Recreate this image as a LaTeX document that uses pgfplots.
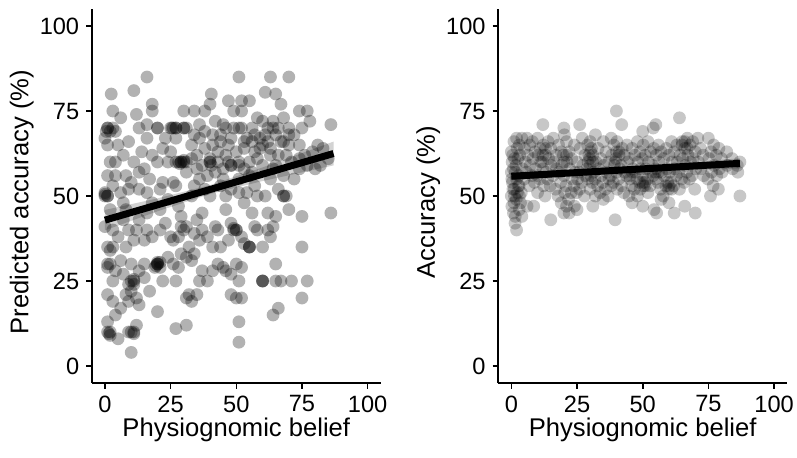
\documentclass[border=0pt]{standalone}
\usepackage{fontspec}
\setmainfont{Liberation Sans}
\usepackage{pgfplots}
\pgfplotsset{compat=1.18}
\usepackage{pgfplotstable}

\pgfplotstableread{
x y
16 85
51 85
63 85
70 85
2.4 80
11 81
40.5 80
61 80.5
65 80
3 75
18 77
18 75
30 75
34 75
38 75
40 77
47 78
52 78
55 78
74 75
77 75
67 77
49 75
52 75
12 74
6 73
1 70
2 69
3 70
4 69
13 70
16 71
20 70
25 70
26 70
27 70
30 70
31 70
36 71
41 68
46 70
49 70
51 70
56 70
60 72
62 70
64 70
68 73
70 70
75 70
78 72
86 71
0 67
1 65
9 66
16 67
23 67
27 67
36 67
41 65
44 66
48 67
53 66
56 66
60 65
63 64
67 66
70 65
74 65
81 65
83 64
2 60
4 60
11 60
15 58
20 60
24 60
27 60
28 60
29 60
30 60
31 60
33 61
37 59
40 60
40 61
43 60
48 59
51 59
55 60
58 61
63 62
69 62
74 61
80 58
85 61
1 56
4 56
8 56
13 57
17 55
22 54
26 54
31 57
36 55
42 57
45 55
51 55
56 57
63 55
68 56
77 59
82 59
0 51
0 50
1 50
6 51
9 52
13 52
16 51
21 52
27 53
33 50
40 50
46 50
51 51
54 51
58 50
68 50
69 50
2 46
8 46
16 45
21 46
29 44
37 45
46 46
56 45
62 45
65 44
70 46
75 44
86 45
0 41
3 40
9 40
12 40
16 40
21 40
30 40
31 41
37 40
43 40
49 40
50 40
58 40
62 40
64 41
1 35
2 34
8 35
15 37
26 37
32 35
36 37
41 35
44 35
55 35
55 35
60 35
75 35
1 30
1 29
6 31
10 30
15 30
20 30
20 30
21 29
26 30
31 32
34 33
43 30
46 28
50 30
65 30
3 25
11 25
11 24
15 26
22 25
27 25
36 25
39 25
51 25
60 25
60 25
65 25
71 25
77 25
1 21
8 21
12 20
31 20
32 21
35 21
50 20
52 20
75 20
4 15
20 16
51 13
64 15
66 17
1 10
2 9
5 8
11 10
10 4
27 11
31 12
51 7
1 13
12 12
5 65
7 62
14 63
18 62
22 64
25 63
33 65
35 62
38 64
43 63
46 62
50 63
53 64
57 63
59 67
61 68
65 68
66 62
72 68
76 62
79 63
3 53
7 48
10 54
18 48
24 49
28 47
34 53
38 52
44 53
48 52
53 48
57 53
61 50
66 52
72 55
5 38
7 43
11 37
13 43
18 38
23 42
25 38
28 38
29 41
34 39
35 43
39 38
42 41
47 37
48 42
52 38
53 36
57 41
63 38
4 28
7 27
9 24
13 28
17 22
19 29
24 32
28 29
29 33
33 31
37 28
41 28
45 29
48 27
52 29
3 19
6 17
9 19
10 22
13 18
33 19
48 21
67 25
9 10
11 9.5
20 30.5
19.5 29.5
1 70
0.5 69
1 50
0 50.5
2 10
1.5 9.5
20 30
21 30.5
29 60
30 60.5
28.5 59.5
40 60
40.5 59
27 70
25.5 70
30 70
55 35
50 40
49 40.5
60 25
68 50
10 10
3 35
2 30
10 25
11 25.5
20 70
48 59
51 60
44 68
47 65
52 70
54 67
57 68
59 64
62 66
64 72
66 70
68 66
70 68
45 71
42 72
38 69
34 68
58 73
35 58
39 56
45 58
47 60
53 58
55 56
60 59
65 59
71 60
74 58
64 58
}\leftdata

\pgfplotstableread{
x y
0 63
0.3 60
0 57
0.4 54
0 50
0.2 47
1 66
1.2 61
0.8 58
1.1 52
1 48
1.5 44
2 67
2.2 64
1.8 59
2 55
2.3 51
1.9 49
2 40
3 65
3.2 62
2.8 56
3 53
3.1 50
3 46
4 67
4.2 58
3.8 51
4 44
5 64
5.3 60
4.9 55
6 67
6.2 62
5.8 57
6 47
7 65
7.2 59
6.8 53
8 66
8.2 61
7.8 56
8.5 47
9 63
9.2 58
8.8 54
10 67
10.2 62
9.8 56
10 51
11 64
11.2 60
10.8 55
12 71
12.2 65
11.8 60
12 58
12.3 53
13 62
13.2 57
12.8 50
14 66
14.2 61
13.8 55
15 64
15.2 59
14.8 53
15 43
16 67
16.2 60
15.8 56
17 62
17.2 58
16.8 52
18 65
18.2 57
17.8 50
19 63
19.2 59
18.8 54
19 48
20 70
20.2 68
19.8 62
20 56
20.3 51
20 45
21 66
21.2 60
20.8 53
21 47
22 63
22.2 58
21.8 49
22 45
23 61
23.2 55
22.8 51
24 65
24.2 57
23.8 53
24 47
25 60
25.2 55
24.8 51
25 46
26 71
26.2 64
25.8 57
26 52
27 67
27.2 59
26.8 54
28 62
28.2 56
27.8 50
29 65
29.2 60
28.8 58
29 55
30 66
30.2 63
29.8 61
30 59
30.3 56
30 52
31 62
31.2 57
30.8 54
31 47
32 68
32.2 60
31.8 55
32 50
33 64
33.2 58
32.8 53
34 61
34.2 56
33.8 51
35 66
35.2 59
34.8 54
35 49
36 63
36.2 57
35.8 52
37 60
37.2 55
36.8 50
38 67
38.2 62
37.8 56
38 53
39 65
39.2 59
38.8 54
39.5 43
40 75
40.2 66
39.8 61
40 57
40.3 52
41 63
41.2 58
40.8 55
42 71
42.2 64
41.8 59
42 53
43 62
43.2 57
42.8 51
44 65
44.2 60
43.8 56
45 61
45.2 55
44.8 50
46 64
46.2 58
45.8 53
46 48
47 62
47.2 57
46.8 52
48 66
48.2 60
47.8 55
48 50
49 63
49.2 58
48.8 54
50 69
50.2 65
49.8 61
50 56
50.3 53
50 47
51 62
51.2 58
50.8 54
52 66
52.2 60
51.8 55
52 51
53 63
53.2 57
52.8 53
54 70
54.2 64
53.8 59
54 56
54.3 46
55 71
55.2 62
54.8 57
55 55
55.3 45
56 65
56.2 60
55.8 54
57 63
57.2 57
56.8 52
57 49
58 61
58.2 56
57.8 50
59 64
59.2 58
58.8 53
60 62
60.2 57
59.8 52
60 48
61 66
61.2 60
60.8 54
62 63
62.2 58
61.8 53
62 45
63 65
63.2 60
62.8 56
64 73
64.2 62
63.8 57
64 52
65 66
65.2 61
64.8 55
66 64
66.2 59
65.8 54
66 47
67 67
67.2 62
66.8 57
68 65
68.2 60
67.8 55
69 66
69.2 61
68.8 56
70 63
70.2 58
69.8 52
70 45
71 67
71.2 60
72 64
72.2 58
73 62
73.2 56
75 67
75.2 61
74.8 55
76 63
76.2 57
75.8 50
77 65
77.2 59
76.8 53
78 62
78.2 56
79 64
79.2 58
78.8 52
80 61
80.2 57
82 63
82.2 59
84 61
84.2 58
86 59
86.2 57
87 50
87 60
0.5 62
0.2 55
0.6 52
1.5 57
1.2 50
2.5 61
2.7 53
0.8 45
1.4 42
3.5 48
29.5 62
30.5 64
31 60
40 63
39.5 60
41 62
50 54
51 53
49 52
60 53
61 52
59.5 54
65 65
66 66
67 64
12 62
13 64
20 60
21 62
45 56
46 57
55 58
56 57
}\rightdata

\pgfplotsset{
  myaxis/.style={
    scale only axis, width=144.5pt, height=187pt,
    xmin=-5, xmax=105, ymin=-5, ymax=105,
    axis lines=left,
    axis line style={-, line width=0.9pt, black},
    tick style={line width=0.8pt, black},
    tick align=outside,
    major tick length=2.8pt,
    xtick={0,25,50,75,100}, ytick={0,25,50,75,100},
    /pgf/number format/assume math mode=true,
    ticklabel style={font=\fontsize{11.8}{13}\selectfont},
    label style={font=\fontsize{12.8}{14}\selectfont},
    xlabel={Physiognomic belief},
    xlabel style={at={(axis description cs:0.5,-0.1257)}, anchor=center},
    ylabel style={at={(axis description cs:-0.242,0.484)}, anchor=center, rotate=0},
    clip=false,
  },
}

\begin{document}
\begin{tikzpicture}
\path[use as bounding box] (-45.9pt,-37pt) rectangle (352.6pt,191.5pt);
\begin{axis}[myaxis, at={(0pt,0pt)}, anchor=south west, ylabel={Predicted accuracy (\%)}]
\addplot[only marks, mark=*, mark size=3.2pt, color=black, fill opacity=0.3, draw opacity=0] table[x=x,y=y]{\leftdata};
\addplot[fill=gray, fill opacity=0.35, draw=none] coordinates {(0,45.9) (20,49.3) (40,53.2) (60,58.4) (87,66.0) (87,59.0) (60,54.4) (40,50.6) (20,45.5) (0,39.9)} -- cycle;
\addplot[black, line width=3.5pt] coordinates {(0,42.9) (87,62.5)};
\end{axis}
\begin{axis}[myaxis, at={(203.2pt,0pt)}, anchor=south west, ylabel={Accuracy (\%)}]
\addplot[only marks, mark=*, mark size=3.2pt, color=black, fill opacity=0.22, draw opacity=0] table[x=x,y=y]{\rightdata};
\addplot[fill=gray, fill opacity=0.35, draw=none] coordinates {(0,57.0) (40,58.1) (87,61.1) (87,58.1) (40,56.9) (0,54.6)} -- cycle;
\addplot[black, line width=3.5pt] coordinates {(0,55.8) (87,59.6)};
\end{axis}
\end{tikzpicture}
\end{document}
